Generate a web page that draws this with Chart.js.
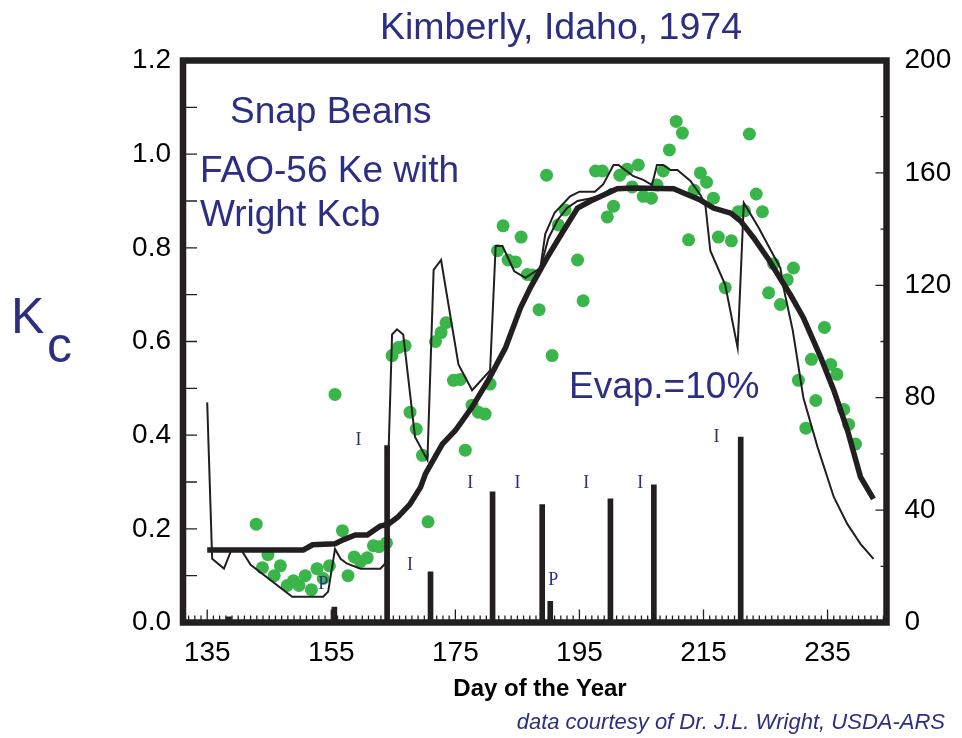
<!DOCTYPE html>
<html>
<head>
<meta charset="utf-8">
<script src="https://cdn.jsdelivr.net/npm/chart.js@4/dist/chart.umd.min.js"></script>
<style>
  html, body { margin: 0; padding: 0; background: #fff; }
</style>
</head>
<body>
<canvas id="kcChart" width="962" height="738"></canvas>
<script>
// Measured Kc (green dots)
const measuredDays = [142.9, 143.9, 144.8, 145.8, 146.8, 147.9, 148.9, 149.8, 150.8, 151.8, 152.7, 153.7, 154.7, 155.6, 156.8, 157.7, 158.7, 159.7, 160.8, 161.8,
  162.7, 163.9, 164.8, 165.8, 166.9, 167.7, 168.7, 169.7, 170.6, 171.8, 172.7, 173.5, 174.7, 175.8, 176.6, 177.7, 178.7, 179.8, 180.6, 181.8,
  182.7, 183.5, 184.7, 185.6, 186.6, 187.4, 188.5, 189.7, 190.6, 191.6, 192.7, 194.7, 195.6, 197.6, 198.7, 199.5, 200.5, 201.5, 202.7, 203.5,
  204.5, 205.3, 206.6, 207.5, 208.5, 209.5, 210.6, 211.6, 212.6, 213.5, 214.5, 215.5, 216.6, 217.4, 218.5, 219.5, 220.6, 221.6, 222.4, 223.5,
  224.5, 225.5, 226.3, 227.4, 228.5, 229.5, 230.3, 231.5, 232.4, 233.1, 234.5, 235.5, 236.5, 237.6, 238.4, 239.5];
const measuredKc = [0.21, 0.117, 0.145, 0.10, 0.121, 0.079, 0.089, 0.079, 0.10, 0.07, 0.115, 0.094, 0.121, 0.487, 0.196, 0.10, 0.14, 0.13, 0.138, 0.164,
  0.162, 0.17, 0.57, 0.587, 0.591, 0.449, 0.413, 0.357, 0.215, 0.60, 0.619, 0.64, 0.517, 0.519, 0.368, 0.464, 0.449, 0.445, 0.509, 0.794,
  0.847, 0.774, 0.77, 0.823, 0.743, 0.742, 0.668, 0.955, 0.57, 0.849, 0.881, 0.774, 0.687, 0.964, 0.964, 0.866, 0.889, 0.955, 0.968, 0.93,
  0.977, 0.91, 0.906, 0.934, 0.964, 1.009, 1.07, 1.045, 0.817, 0.923, 0.96, 0.94, 0.906, 0.823, 0.715, 0.815, 0.877, 0.879, 1.043, 0.915,
  0.877, 0.704, 0.766, 0.679, 0.732, 0.757, 0.517, 0.415, 0.562, 0.474, 0.63, 0.551, 0.53, 0.455, 0.423, 0.381];

// Basal Kcb (thick line)
const kcbDays = [135, 150.5, 152, 155.6, 157, 158.9, 160.8, 162.9, 164.2, 165.8, 167.7, 169.4, 170.2, 172.9, 175, 177.7, 180.3, 183.1, 185.5, 187.1,
  189.8, 192.4, 194.7, 196.8, 198.9, 201.1, 203.7, 210.2, 211.8, 214.5, 216.6, 219.4, 221, 223.1, 225.3, 227.4, 229, 231.1, 233.9, 236,
  238.2, 240.3, 242.4];
const kcbValues = [0.155, 0.155, 0.166, 0.168, 0.177, 0.187, 0.187, 0.206, 0.21, 0.226, 0.253, 0.289, 0.318, 0.381, 0.41, 0.46, 0.517, 0.587, 0.672, 0.715,
  0.779, 0.836, 0.885, 0.9, 0.913, 0.926, 0.928, 0.926, 0.917, 0.902, 0.885, 0.874, 0.857, 0.821, 0.779, 0.734, 0.70, 0.651, 0.566, 0.496,
  0.411, 0.311, 0.264];

// FAO-56 Kcb + Ke (thin line with wetting spikes)
const keDays = [135, 135.8, 137.7, 138.9, 140.5, 142, 148.7, 153.7, 154.5, 155.6, 156.5, 157.5, 159.7, 162.9, 163.7, 164.8, 165.6, 166.6, 167.4, 168.5,
  170.5, 171.5, 172.7, 173.7, 175.5, 177.7, 180.6, 181.5, 182.6, 184.5, 186.3, 188.7, 189.5, 191, 193.5, 195, 197.5, 198.8, 200.5, 201.3,
  203.7, 205.3, 206.7, 207.5, 208.5, 209.7, 210.8, 212.9, 214.5, 215.3, 216.1, 218.5, 220.5, 221.5, 223.9, 225.8, 227.4, 227.9, 229.4, 231.1,
  233.4, 236, 238.2, 240.3, 242.4];
const keValues = [0.47, 0.136, 0.115, 0.155, 0.155, 0.123, 0.055, 0.055, 0.066, 0.157, 0.136, 0.126, 0.115, 0.115, 0.126, 0.615, 0.626, 0.615, 0.523, 0.396,
  0.347, 0.753, 0.774, 0.694, 0.551, 0.496, 0.538, 0.804, 0.804, 0.75, 0.736, 0.757, 0.83, 0.875, 0.91, 0.92, 0.92, 0.935, 0.977, 0.977,
  0.953, 0.945, 0.934, 0.977, 0.977, 0.966, 0.966, 0.943, 0.913, 0.892, 0.794, 0.721, 0.587, 0.896, 0.843, 0.796, 0.757, 0.715, 0.623, 0.48,
  0.374, 0.268, 0.21, 0.168, 0.136];

// second thin line, only where it leaves the others
const ke2Days = [188.7, 190, 191.5, 193, 194.7, 196.5, 198.5, 200, 201.1];
const ke2Values = [0.757, 0.82, 0.86, 0.885, 0.9, 0.905, 0.912, 0.925, 0.926];

// Irrigation (I) and precipitation (P), mm on the right axis
const eventDays = [138.5, 155.5, 164, 171, 181, 189, 190.3, 200, 207, 221];
const eventMm = [2, 5.5, 63, 18, 46.5, 42, 7.5, 44, 49, 66];
const tagText = ['P', 'I', 'I', 'I', 'I', 'P', 'I', 'I', 'I'];
const tagDays = [153.7, 159.4, 167.7, 177.4, 185.0, 190.8, 196.1, 204.8, 217.1];
const tagMm = [13.5, 65, 20.5, 49.5, 49.5, 15, 49.5, 49.5, 66];

const xTickLabels = [135, 155, 175, 195, 215, 235];

const navy = '#2b2e83';
const ink = '#231f20';
const labelFont = '"Liberation Sans", Arial, sans-serif';

const toPoints = (xs, ys) => xs.map((x, i) => ({ x: x, y: ys[i] }));

// frame, inward ticks and all the free text
const decorations = {
  id: 'decorations',
  afterDraw(chart) {
    const ctx = chart.ctx;
    const a = chart.chartArea;
    const x = chart.scales.x, y = chart.scales.y, y1 = chart.scales.y1;
    ctx.save();
    ctx.strokeStyle = ink;
    ctx.lineWidth = 1.3;
    ctx.beginPath();
    for (let d = Math.ceil(x.min); d <= x.max; d++) {
      const px = x.getPixelForValue(d);
      const len = (d - 135) % 20 === 0 ? 13 : 7;
      ctx.moveTo(px, a.bottom); ctx.lineTo(px, a.bottom - len);
    }
    for (let k = 0; k <= 12; k++) {
      const py = y.getPixelForValue(k / 10);
      ctx.moveTo(a.left, py); ctx.lineTo(a.left + 14, py);
    }
    for (let m = 0; m <= 200; m += 20) {
      const py = y1.getPixelForValue(m);
      const len = m % 40 === 0 ? 11 : 6;
      ctx.moveTo(a.right, py); ctx.lineTo(a.right - len, py);
    }
    ctx.stroke();

    ctx.lineWidth = 6.5;
    ctx.strokeRect(a.left, a.top, a.right - a.left, a.bottom - a.top);

    // I / P tags
    ctx.fillStyle = navy;
    ctx.font = '18px "Liberation Serif", "Times New Roman", serif';
    ctx.textAlign = 'center';
    ctx.textBaseline = 'middle';
    tagText.forEach((t, i) => {
      ctx.fillText(t, x.getPixelForValue(tagDays[i]), y1.getPixelForValue(tagMm[i]));
    });

    ctx.textBaseline = 'alphabetic';
    ctx.font = '37.5px ' + labelFont;
    ctx.fillText('Kimberly, Idaho, 1974', 561, 39);

    ctx.textAlign = 'left';
    ctx.font = '37px ' + labelFont;
    ctx.fillText('Snap Beans', 230, 123);
    ctx.fillText('FAO-56 Ke with', 200, 182);
    ctx.fillText('Wright Kcb', 200, 226);
    ctx.fillText('Evap.=10%', 569, 398);

    ctx.font = '50px ' + labelFont;
    ctx.fillText('K', 11, 333);
    ctx.fillText('c', 47, 362);

    ctx.fillStyle = '#000';
    ctx.textAlign = 'center';
    ctx.font = 'bold 24px ' + labelFont;
    ctx.fillText('Day of the Year', 540, 696);

    ctx.fillStyle = navy;
    ctx.textAlign = 'right';
    ctx.font = 'italic 22px ' + labelFont;
    ctx.fillText('data courtesy of Dr. J.L. Wright, USDA-ARS', 945, 729);
    ctx.restore();
  }
};

const tickFont = { family: labelFont, size: 28 };

new Chart(document.getElementById('kcChart'), {
  type: 'line',
  data: {
    datasets: [
      {
        type: 'bar',
        data: toPoints(eventDays, eventMm),
        yAxisID: 'y1',
        backgroundColor: ink,
        barThickness: 5,
        order: 1
      },
      {
        data: toPoints(kcbDays, kcbValues),
        borderColor: ink,
        borderWidth: 5.5,
        pointRadius: 0,
        tension: 0,
        order: 2
      },
      {
        data: toPoints(keDays, keValues),
        borderColor: ink,
        borderWidth: 2,
        pointRadius: 0,
        tension: 0,
        order: 3
      },
      {
        data: toPoints(ke2Days, ke2Values),
        borderColor: ink,
        borderWidth: 2,
        pointRadius: 0,
        tension: 0,
        order: 4
      },
      {
        type: 'scatter',
        data: toPoints(measuredDays, measuredKc),
        backgroundColor: '#39b54a',
        borderWidth: 0,
        pointRadius: 6.5,
        order: 5
      }
    ]
  },
  options: {
    responsive: false,
    animation: false,
    layout: { padding: { top: 60.5, left: 0, right: 0, bottom: 0 } },
    plugins: {
      legend: { display: false },
      tooltip: { enabled: false }
    },
    scales: {
      x: {
        type: 'linear',
        min: 131.1,
        max: 244.5,
        offset: false,
        grid: { display: false },
        border: { display: false },
        afterBuildTicks: s => { s.ticks = xTickLabels.map(v => ({ value: v })); },
        afterFit: s => { s.height = 115.5; },
        ticks: { font: tickFont, color: '#000', padding: 6, maxRotation: 0, autoSkip: false }
      },
      y: {
        min: 0,
        max: 1.2,
        grid: { display: false },
        border: { display: false },
        afterFit: s => { s.width = 183; },
        ticks: { stepSize: 0.2, font: tickFont, color: '#000', padding: 4, callback: v => v.toFixed(1) }
      },
      y1: {
        position: 'right',
        min: 0,
        max: 200,
        grid: { display: false },
        border: { display: false },
        afterFit: s => { s.width = 75.5; },
        ticks: { stepSize: 40, font: tickFont, color: '#000', padding: 10 }
      }
    }
  },
  plugins: [decorations]
});
</script>
</body>
</html>
